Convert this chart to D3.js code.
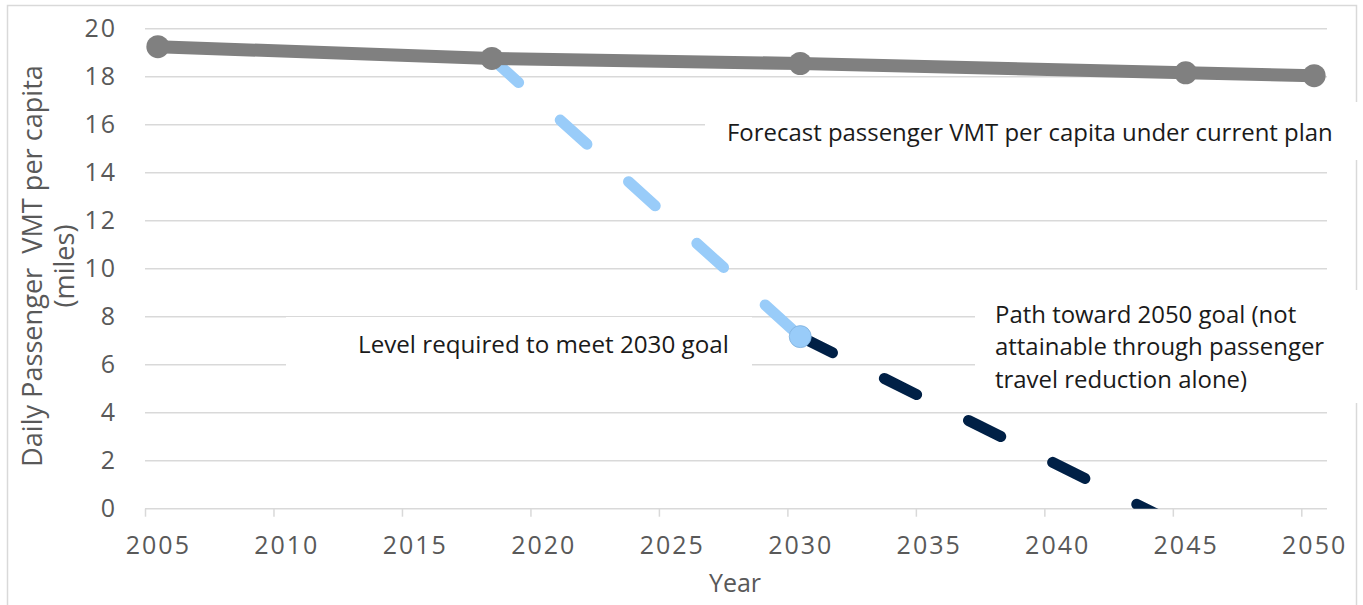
<!DOCTYPE html>
<html><head><meta charset="utf-8">
<script src="https://cdn.jsdelivr.net/npm/d3@7/dist/d3.min.js"></script>
<style>html,body{margin:0;padding:0;background:#fff;} svg{display:block;}</style>
</head><body>
<svg id="c" width="1363" height="605"></svg>
<script>
// ---- data ----
const tickYears = [2005, 2010, 2015, 2020, 2025, 2030, 2035, 2040, 2045, 2050];
const yTicks = [0, 2, 4, 6, 8, 10, 12, 14, 16, 18, 20];
const forecastYears = [2005, 2018, 2030, 2045, 2050];
const forecastValues = [19.25, 18.76, 18.55, 18.16, 18.04];
const goal2030Years = [2018, 2030];
const goal2030Values = [18.76, 7.17];
const goal2050Years = [2030, 2050];
const goal2050Values = [7.17, -3.5];
const yTitle = ["Daily Passenger  VMT per capita", "(miles)"];
const xTitle = "Year";
const noteForecast = "Forecast passenger VMT per capita under current plan";
const noteLevel = "Level required to meet 2030 goal";
const notePath = ["Path toward 2050 goal (not", "attainable through passenger", "travel reduction alone)"];

const svg = d3.select("#c");
const plot = {left: 145, right: 1327, top: 28.7, bottom: 508.7};
const x = d3.scaleLinear().domain([2004.5, 2050.5]).range([plot.left, plot.right]);
const y = d3.scaleLinear().domain([0, 20]).range([plot.bottom, plot.top]);
const grid = "#d9d9d9", tickText = "#595959";
const font = "'Open Sans', sans-serif";

function fitText(sel, w) {
  const node = sel.node();
  const len = node.getComputedTextLength();
  const target = node.tagName === "tspan" ? node.parentNode : node;
  const fs = parseFloat(getComputedStyle(target).fontSize);
  d3.select(target).style("font-size", (fs * w / len) + "px");
}

// outer border
svg.append("rect").attr("x", 7.5).attr("y", 5.5).attr("width", 1349).attr("height", 602)
  .attr("fill", "#fff").attr("stroke", grid).attr("stroke-width", 1.5);

// gridlines
svg.append("g").selectAll("line").data(yTicks.filter(d => d > 0)).join("line")
  .attr("x1", plot.left).attr("x2", plot.right)
  .attr("y1", d => y(d)).attr("y2", d => y(d))
  .attr("stroke", grid).attr("stroke-width", 1.5);

// x axis
const half = x(2005) - x(2004.5);
const xAxis = svg.append("g").attr("transform", `translate(0,${plot.bottom})`)
  .call(d3.axisBottom(x).tickValues(tickYears).tickSize(8).tickSizeOuter(0).tickPadding(20).tickFormat(d3.format("d")));
xAxis.select(".domain").attr("stroke", grid).attr("stroke-width", 1.5).attr("d", `M${plot.left},0H${plot.right}`);
xAxis.selectAll(".tick line").attr("stroke", grid).attr("stroke-width", 1.5).attr("x1", -half).attr("x2", -half);
xAxis.selectAll(".tick text").attr("fill", tickText).style("font", `25px ${font}`).attr("dy", "0.71em").attr("letter-spacing", "2");

// y axis labels
const yAxis = svg.append("g").attr("transform", `translate(${plot.left},0)`)
  .call(d3.axisLeft(y).tickValues(yTicks).tickSize(0).tickPadding(28).tickFormat(d3.format("d")));
yAxis.select(".domain").remove();
yAxis.selectAll(".tick text").attr("fill", tickText).style("font", `25px ${font}`).attr("letter-spacing", "2");

// axis titles
svg.append("text").attr("x", 735).attr("y", 582).attr("text-anchor", "middle").attr("dominant-baseline", "central")
  .attr("fill", tickText).style("font", `25px ${font}`).text(xTitle);
const yt = svg.append("text").attr("transform", "translate(49,266) rotate(-90)").attr("text-anchor", "middle")
  .attr("fill", tickText).style("font", `25px ${font}`).style("white-space", "pre");
yt.selectAll("tspan").data(yTitle).join("tspan").attr("x", 0).attr("dy", (d, i) => i === 0 ? "-0.25em" : "1.16em")
  .attr("xml:space", "preserve").text(d => d);
fitText(yt.select("tspan"), 402);

// annotation boxes (white)
const boxes = [[705, 102, 658, 58], [975, 290, 388, 113], [286, 317, 466, 54]];
svg.append("g").selectAll("rect").data(boxes).join("rect")
  .attr("x", d => d[0]).attr("y", d => d[1]).attr("width", d => d[2]).attr("height", d => d[3]).attr("fill", "#fff");

// lines
svg.append("defs").append("clipPath").attr("id", "pc").append("rect")
  .attr("x", plot.left).attr("y", 0).attr("width", plot.right - plot.left).attr("height", plot.bottom);
const line = d3.line().x(d => x(d[0])).y(d => y(d[1]));
const lines = svg.append("g").attr("clip-path", "url(#pc)");

lines.append("path").datum(d3.zip(goal2050Years, goal2050Values)).attr("d", line)
  .attr("fill", "none").attr("stroke", "#002046").attr("stroke-width", 11)
  .attr("stroke-linecap", "round").attr("stroke-dasharray", "36 58");

lines.append("path").datum(d3.zip(goal2030Years, goal2030Values)).attr("d", line)
  .attr("fill", "none").attr("stroke", "#99ccf9").attr("stroke-width", 11)
  .attr("stroke-linecap", "round").attr("stroke-dasharray", "36 56");
svg.append("circle").attr("cx", x(goal2030Years[1])).attr("cy", y(goal2030Values[1])).attr("r", 11)
  .attr("fill", "#99ccf9").attr("stroke", "#7fb0dc").attr("stroke-width", 0.8);

const fdata = d3.zip(forecastYears, forecastValues);
svg.append("path").datum(fdata).attr("d", line)
  .attr("fill", "none").attr("stroke", "#808080").attr("stroke-width", 13).attr("stroke-linejoin", "round");
svg.append("g").selectAll("circle").data(fdata).join("circle")
  .attr("cx", d => x(d[0])).attr("cy", d => y(d[1])).attr("r", 11.5).attr("fill", "#808080");

// annotations
const annFont = `21px ${font}`;
const t1 = svg.append("text").attr("x", 727).attr("y", 131).attr("dominant-baseline", "central")
  .attr("fill", "#1a1a1a").style("font", annFont).text(noteForecast);
fitText(t1, 606);
const t2 = svg.append("text").attr("x", 358).attr("y", 343).attr("dominant-baseline", "central")
  .attr("fill", "#1a1a1a").style("font", annFont).text(noteLevel);
fitText(t2, 371);
const pathY = [313, 345.5, 378];
notePath.forEach((s, i) => {
  svg.append("text").attr("x", 995).attr("y", pathY[i]).attr("dominant-baseline", "central")
    .attr("fill", "#1a1a1a").style("font-size", t1.style("font-size")).style("font-family", font).text(s);
});
</script>
</body></html>
